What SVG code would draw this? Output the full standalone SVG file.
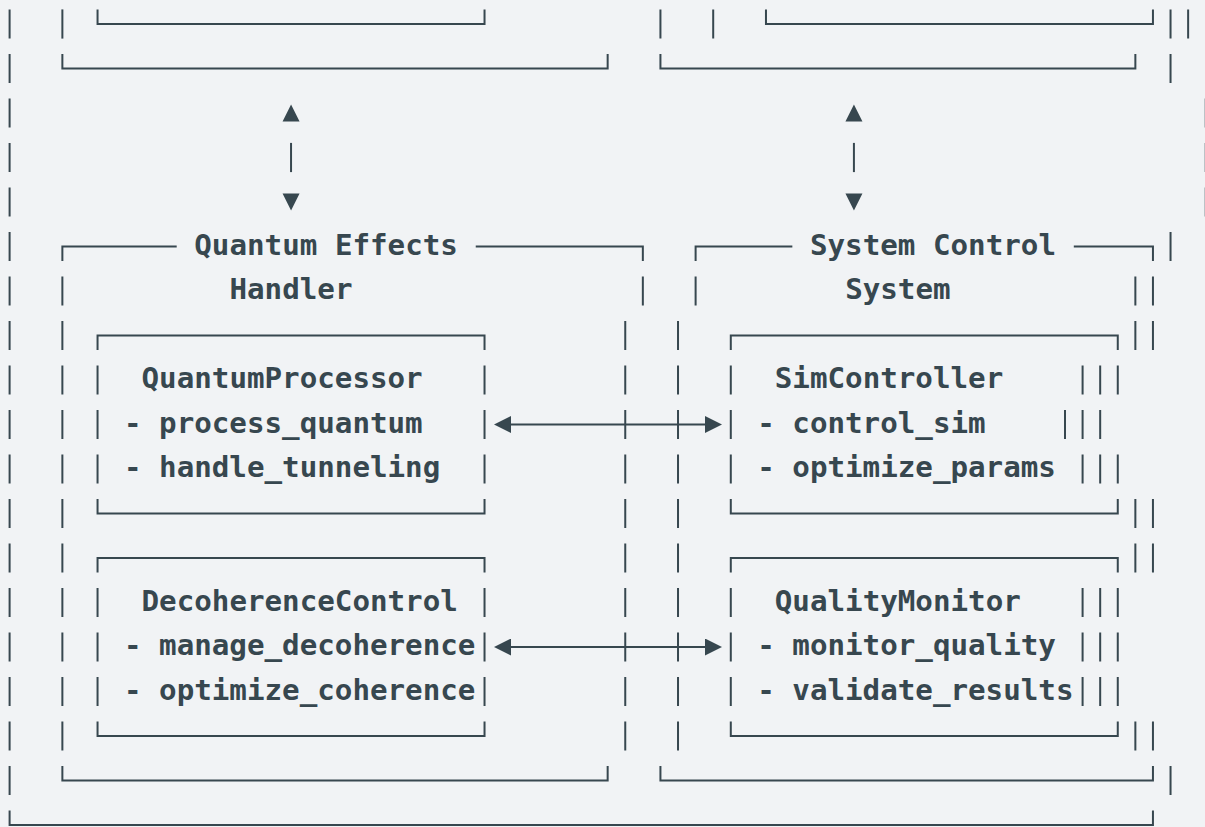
<svg xmlns="http://www.w3.org/2000/svg" width="1205" height="827" viewBox="0 0 1205 827">
<defs>
<style>
.ln{fill:none;stroke:#37474f;stroke-width:2;stroke-linecap:butt;stroke-linejoin:miter}
.tx{font-family:"DejaVu Sans Mono","Liberation Mono",monospace;font-weight:700;font-size:29.2px;fill:#37474f}
.ah{fill:#37474f}
</style>
<marker id="arr" viewBox="0 0 17 17" markerWidth="17" markerHeight="17" refX="0" refY="8.5" markerUnits="userSpaceOnUse" orient="auto-start-reverse">
<path d="M0,0 L17,8.5 L0,17 z" fill="#37474f"/>
</marker>
</defs>
<rect width="1205" height="827" fill="#f1f3f5"/>

<g id="outer-frame">
<path class="ln" d="M9.6 9.4v29.2M9.6 53.9v29.2M9.6 98.4v29.2M9.6 142.9v29.2M9.6 187.4v29.2M9.6 231.9v29.2M9.6 276.4v29.2M9.6 320.9v29.2M9.6 365.4v29.2M9.6 409.9v29.2M9.6 454.4v29.2M9.6 498.9v29.2M9.6 543.4v29.2M9.6 587.9v29.2M9.6 632.4v29.2M9.6 676.9v29.2M9.6 721.4v29.2M9.6 765.9v29.2"/>
<path class="ln" d="M9.6 810.4V825H1152.95V810.4"/>
<path class="ln" d="M1170.54 9.4v29.2M1170.54 53.9v29.2M1170.54 231.9v29.2M1170.54 765.9v29.2M1188.13 9.4v29.2M1205.72 98.4v29.2M1205.72 142.9v29.2M1205.72 187.4v29.2"/>
</g>

<g id="top-left-panel">
<path class="ln" d="M62.37 9.4v29.2"/>
<path class="ln" d="M97.55 9.4V24H484.53V9.4"/>
<path class="ln" d="M62.37 53.9V68.5H607.66V53.9"/>
</g>

<g id="top-right-panel">
<path class="ln" d="M660.43 9.4v29.2M713.2 9.4v29.2"/>
<path class="ln" d="M765.97 9.4V24H1152.95V9.4"/>
<path class="ln" d="M660.43 53.9V68.5H1135.36V53.9"/>
</g>

<g id="quantum-effects-handler">
<path class="ln" d="M62.37 261.1V246.5H176.7M475.74 246.5H642.84V261.1"/>
<path class="ln" d="M62.37 276.4v29.2M642.84 276.4v29.2"/>
<path class="ln" d="M62.37 320.9v29.2M62.37 365.4v29.2M62.37 409.9v29.2M62.37 454.4v29.2M62.37 498.9v29.2M62.37 543.4v29.2M62.37 587.9v29.2M62.37 632.4v29.2M62.37 676.9v29.2M62.37 721.4v29.2"/>
<path class="ln" d="M625.25 320.9v29.2M625.25 365.4v29.2M625.25 409.9v29.2M625.25 454.4v29.2M625.25 498.9v29.2M625.25 543.4v29.2M625.25 587.9v29.2M625.25 632.4v29.2M625.25 676.9v29.2M625.25 721.4v29.2"/>
<path class="ln" d="M62.37 765.9V780.5H607.66V765.9"/>
<text class="tx" x="194.3" y="254.5">Quantum Effects</text>
<text class="tx" x="229.48" y="299">Handler</text>
</g>

<g id="quantum-processor">
<path class="ln" d="M97.55 350.1V335.5H484.53V350.1"/>
<path class="ln" d="M97.55 365.4v29.2M97.55 409.9v29.2M97.55 454.4v29.2M484.53 365.4v29.2M484.53 409.9v29.2M484.53 454.4v29.2"/>
<path class="ln" d="M97.55 498.9V513.5H484.53V498.9"/>
<text class="tx" x="141.53" y="388">QuantumProcessor</text>
<text class="tx" x="123.94" y="432.5">- process_quantum</text>
<text class="tx" x="123.94" y="477">- handle_tunneling</text>
</g>

<g id="decoherence-control">
<path class="ln" d="M97.55 572.6V558H484.53V572.6"/>
<path class="ln" d="M97.55 587.9v29.2M97.55 632.4v29.2M97.55 676.9v29.2M484.53 587.9v29.2M484.53 632.4v29.2M484.53 676.9v29.2"/>
<path class="ln" d="M97.55 721.4V736H484.53V721.4"/>
<text class="tx" x="141.53" y="610.5">DecoherenceControl</text>
<text class="tx" x="123.94" y="655">- manage_decoherence</text>
<text class="tx" x="123.94" y="699.5">- optimize_coherence</text>
</g>

<g id="system-control-system">
<path class="ln" d="M695.61 261.1V246.5H792.35M1073.8 246.5H1152.95V261.1"/>
<path class="ln" d="M695.61 276.4v29.2M1135.36 276.4v29.2M1152.95 276.4v29.2"/>
<path class="ln" d="M678.02 320.9v29.2M678.02 365.4v29.2M678.02 409.9v29.2M678.02 454.4v29.2M678.02 498.9v29.2M678.02 543.4v29.2M678.02 587.9v29.2M678.02 632.4v29.2M678.02 676.9v29.2M678.02 721.4v29.2"/>
<path class="ln" d="M1135.36 320.9v29.2M1152.95 320.9v29.2M1100.18 365.4v29.2M1117.77 365.4v29.2M1082.59 409.9v29.2M1100.18 409.9v29.2M1100.18 454.4v29.2M1117.77 454.4v29.2M1135.36 498.9v29.2M1152.95 498.9v29.2M1135.36 543.4v29.2M1152.95 543.4v29.2M1100.18 587.9v29.2M1117.77 587.9v29.2M1100.18 632.4v29.2M1117.77 632.4v29.2M1100.18 676.9v29.2M1117.77 676.9v29.2M1135.36 721.4v29.2M1152.95 721.4v29.2"/>
<path class="ln" d="M660.43 765.9V780.5H1152.95V765.9"/>
<text class="tx" x="809.95" y="254.5">System Control</text>
<text class="tx" x="845.13" y="299">System</text>
</g>

<g id="sim-controller">
<path class="ln" d="M730.79 350.1V335.5H1117.77V350.1"/>
<path class="ln" d="M730.79 365.4v29.2M730.79 409.9v29.2M730.79 454.4v29.2M1082.59 365.4v29.2M1065 409.9v29.2M1082.59 454.4v29.2"/>
<path class="ln" d="M730.79 498.9V513.5H1117.77V498.9"/>
<text class="tx" x="774.77" y="388">SimController</text>
<text class="tx" x="757.18" y="432.5">- control_sim</text>
<text class="tx" x="757.18" y="477">- optimize_params</text>
</g>

<g id="quality-monitor">
<path class="ln" d="M730.79 572.6V558H1117.77V572.6"/>
<path class="ln" d="M730.79 587.9v29.2M730.79 632.4v29.2M730.79 676.9v29.2M1082.59 587.9v29.2M1082.59 632.4v29.2M1082.59 676.9v29.2"/>
<path class="ln" d="M730.79 721.4V736H1117.77V721.4"/>
<text class="tx" x="774.77" y="610.5">QualityMonitor</text>
<text class="tx" x="757.18" y="655">- monitor_quality</text>
<text class="tx" x="757.18" y="699.5">- validate_results</text>
</g>

<g id="connectors">
<polygon class="ah" points="291.04,104.5 282.54,121.5 299.54,121.5"/>
<path class="ln" d="M291.04 142.9v29.2"/>
<polygon class="ah" points="282.54,193.5 299.54,193.5 291.04,210.5"/>
<polygon class="ah" points="853.92,104.5 845.42,121.5 862.42,121.5"/>
<path class="ln" d="M853.92 142.9v29.2"/>
<polygon class="ah" points="845.42,193.5 862.42,193.5 853.92,210.5"/>
<path class="ln" d="M511 424.5H705" marker-start="url(#arr)" marker-end="url(#arr)"/>
<path class="ln" d="M511 647H705" marker-start="url(#arr)" marker-end="url(#arr)"/>
</g>
</svg>
